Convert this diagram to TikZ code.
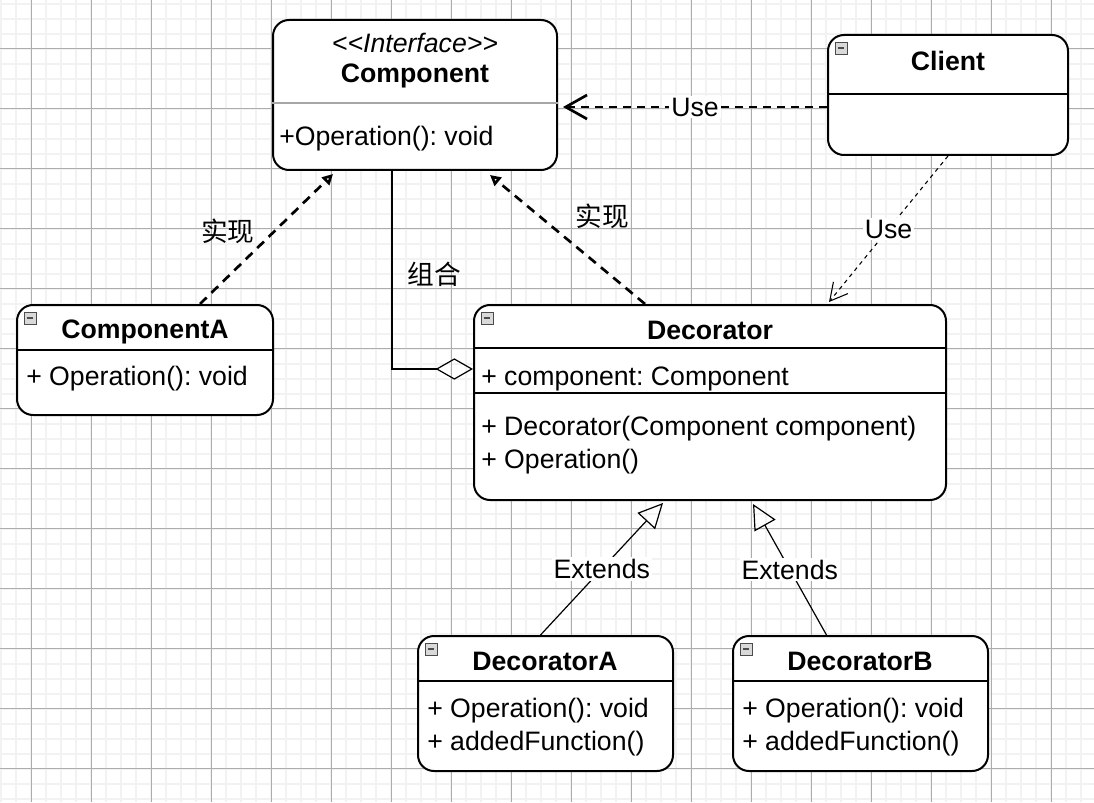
\documentclass[tikz,border=0pt]{standalone}
\usepackage{fontspec}
\setmainfont{Liberation Sans}
\newfontfamily\cjk{Noto Sans CJK SC}
\usetikzlibrary{arrows.meta,calc,fit}
\begin{document}
\frenchspacing
\begin{tikzpicture}[x=0.75pt, y=-0.75pt, font=\fontsize{20}{24}\selectfont]
    \tikzstyle{umlbox} = [draw, line width=1.5pt, rounded corners=12pt, fill=white, inner sep=0pt]
    \tikzstyle{boxtitle} = [font=\fontsize{20}{24}\selectfont\bfseries, inner sep=0pt, text height=14.4pt, text depth=0pt]
    \tikzstyle{member} = [anchor=west, inner sep=0pt, text height=14.4pt, text depth=0pt]
    \tikzstyle{divider} = [line width=1.3pt]
    \tikzstyle{togglebox} = [draw=gray!60!black, fill=gray!30, minimum size=9pt, inner sep=0pt,
        path picture={\draw[line width=1.2pt, black!70] ([xshift=2pt]path picture bounding box.west) -- ([xshift=-2pt]path picture bounding box.east);}]
    \tikzstyle{realize} = [line width=2pt, dash pattern=on 7pt off 5pt, -{Triangle[open, length=8pt, width=8pt]}]
    \tikzstyle{use} = [line width=2pt, dash pattern=on 6pt off 4.5pt, -{Straight Barb[length=16pt, width=18pt]}]
    \tikzstyle{usethin} = [line width=0.8pt, dash pattern=on 3pt off 3pt, -{Straight Barb[length=13pt, width=14pt]}]
    \tikzstyle{extends} = [line width=0.9pt, -{Triangle[open, length=18.5pt, width=18pt]}]
    \tikzstyle{aggr} = [line width=0.9pt, {Diamond[open, length=28pt, width=16pt]}-]
    \tikzstyle{lbl} = [fill=white, inner sep=1.5pt]
    \tikzstyle{minorgrid} = [line width=1.5pt, black!5]
    \tikzstyle{majorgrid} = [line width=0.8pt, black!32]

    \useasboundingbox (0,0) rectangle (1094,802);
    \fill[white] (0,0) rectangle (1094,802);
    \foreach \i in {0,...,72} \draw[minorgrid] ({1.3+15*\i},0) -- ({1.3+15*\i},802);
    \foreach \i in {0,...,53} \draw[minorgrid] (0,{3.7+15*\i}) -- (1094,{3.7+15*\i});
    \foreach \i in {0,...,17} \draw[majorgrid] ({31.3+60*\i},0) -- ({31.3+60*\i},802);
    \foreach \i in {0,...,12} \draw[majorgrid] (0,{48.7+60*\i}) -- (1094,{48.7+60*\i});

    \node [umlbox, fit={(273,20) (557,170)}] (comp) {};
    \node [umlbox, fit={(828,35) (1068,155)}] (client) {};
    \node [umlbox, fit={(17,305) (273,415)}] (compA) {};
    \node [umlbox, fit={(474,305) (946,500)}] (deco) {};
    \node [umlbox, fit={(418,636) (673,771)}] (decoA) {};
    \node [umlbox, fit={(733,636) (988,771)}] (decoB) {};

    \node [inner sep=0pt, text height=14.4pt, text depth=0pt, font=\fontsize{20}{24}\selectfont\itshape] (compS) at (415,43) {{<}{<}Interface{>}{>}};
    \node [boxtitle] (compT) at (415,73) {Component};
    \draw [line width=0.8pt, black!35] ($(comp.north west)+(0,84)$) -- ($(comp.north east)+(0,84)$);
    \node [member] (compOp) at (279,136) {+Operation(): void};

    \node [togglebox] (clientTg) at ($(client.north west)+(14,14)$) {};
    \node [boxtitle] (clientT) at (948,61) {Client};
    \draw [divider] ($(client.north west)+(0,60)$) -- ($(client.north east)+(0,60)$);

    \node [togglebox] (compATg) at ($(compA.north west)+(14,14)$) {};
    \node [boxtitle] (compAT) at (145,329) {ComponentA};
    \draw [divider] ($(compA.north west)+(0,46)$) -- ($(compA.north east)+(0,46)$);
    \node [member] (compAOp) at (26,376) {+ Operation(): void};

    \node [togglebox] (decoTg) at ($(deco.north west)+(14,14)$) {};
    \node [boxtitle] (decoT) at (710,330) {Decorator};
    \draw [divider] ($(deco.north west)+(0,44)$) -- ($(deco.north east)+(0,44)$);
    \node [member] (decoF) at (481,376) {+ component: Component};
    \draw [divider] ($(deco.north west)+(0,89)$) -- ($(deco.north east)+(0,89)$);
    \node [member] (decoC) at (481,426) {+ Decorator(Component component)};
    \node [member] (decoOp) at (481,459) {+ Operation()};

    \node [togglebox] (decoATg) at ($(decoA.north west)+(14,14)$) {};
    \node [boxtitle] (decoAT) at (545,661) {DecoratorA};
    \draw [divider] ($(decoA.north west)+(0,46)$) -- ($(decoA.north east)+(0,46)$);
    \node [member] (decoAOp) at (427,708) {+ Operation(): void};
    \node [member] (decoAFn) at (427,741) {+ addedFunction()};

    \node [togglebox] (decoBTg) at ($(decoB.north west)+(14,14)$) {};
    \node [boxtitle] (decoBT) at (860,661) {DecoratorB};
    \draw [divider] ($(decoB.north west)+(0,46)$) -- ($(decoB.north east)+(0,46)$);
    \node [member] (decoBOp) at (742,708) {+ Operation(): void};
    \node [member] (decoBFn) at (742,741) {+ addedFunction()};

    \draw [realize] ($(compA.north)+(55,0)$) -- node[pos=0.56, xshift=-35pt] {\cjk 实现} ($(comp.south)+(-82,3)$);
    \draw [realize] ($(deco.north)+(-65,0)$) -- node[pos=0.68, xshift=47pt] {\cjk 实现} ($(comp.south)+(75,4)$);
    \draw [aggr] ($(deco.west)+(0,-33.5)$) -| node[pos=0.74, anchor=west, xshift=8pt] {\cjk 组合} ($(comp.south)+(-23,0)$);
    \draw [use] ($(client.west)+(0,12)$) -- node[lbl] {Use} ($(comp.east)+(5,12)$);
    \draw [usethin] (client.south) -- node[lbl] {Use} ($(deco.north)+(119,-2)$);
    \draw [extends] ($(decoA.north)+(-5,0)$) -- node[lbl] {Extends} ($(deco.south)+(-47,2)$);
    \draw [extends] ($(decoB.north)+(-34,0)$) -- node[lbl] {Extends} ($(deco.south)+(43,3)$);
\end{tikzpicture}
\end{document}
